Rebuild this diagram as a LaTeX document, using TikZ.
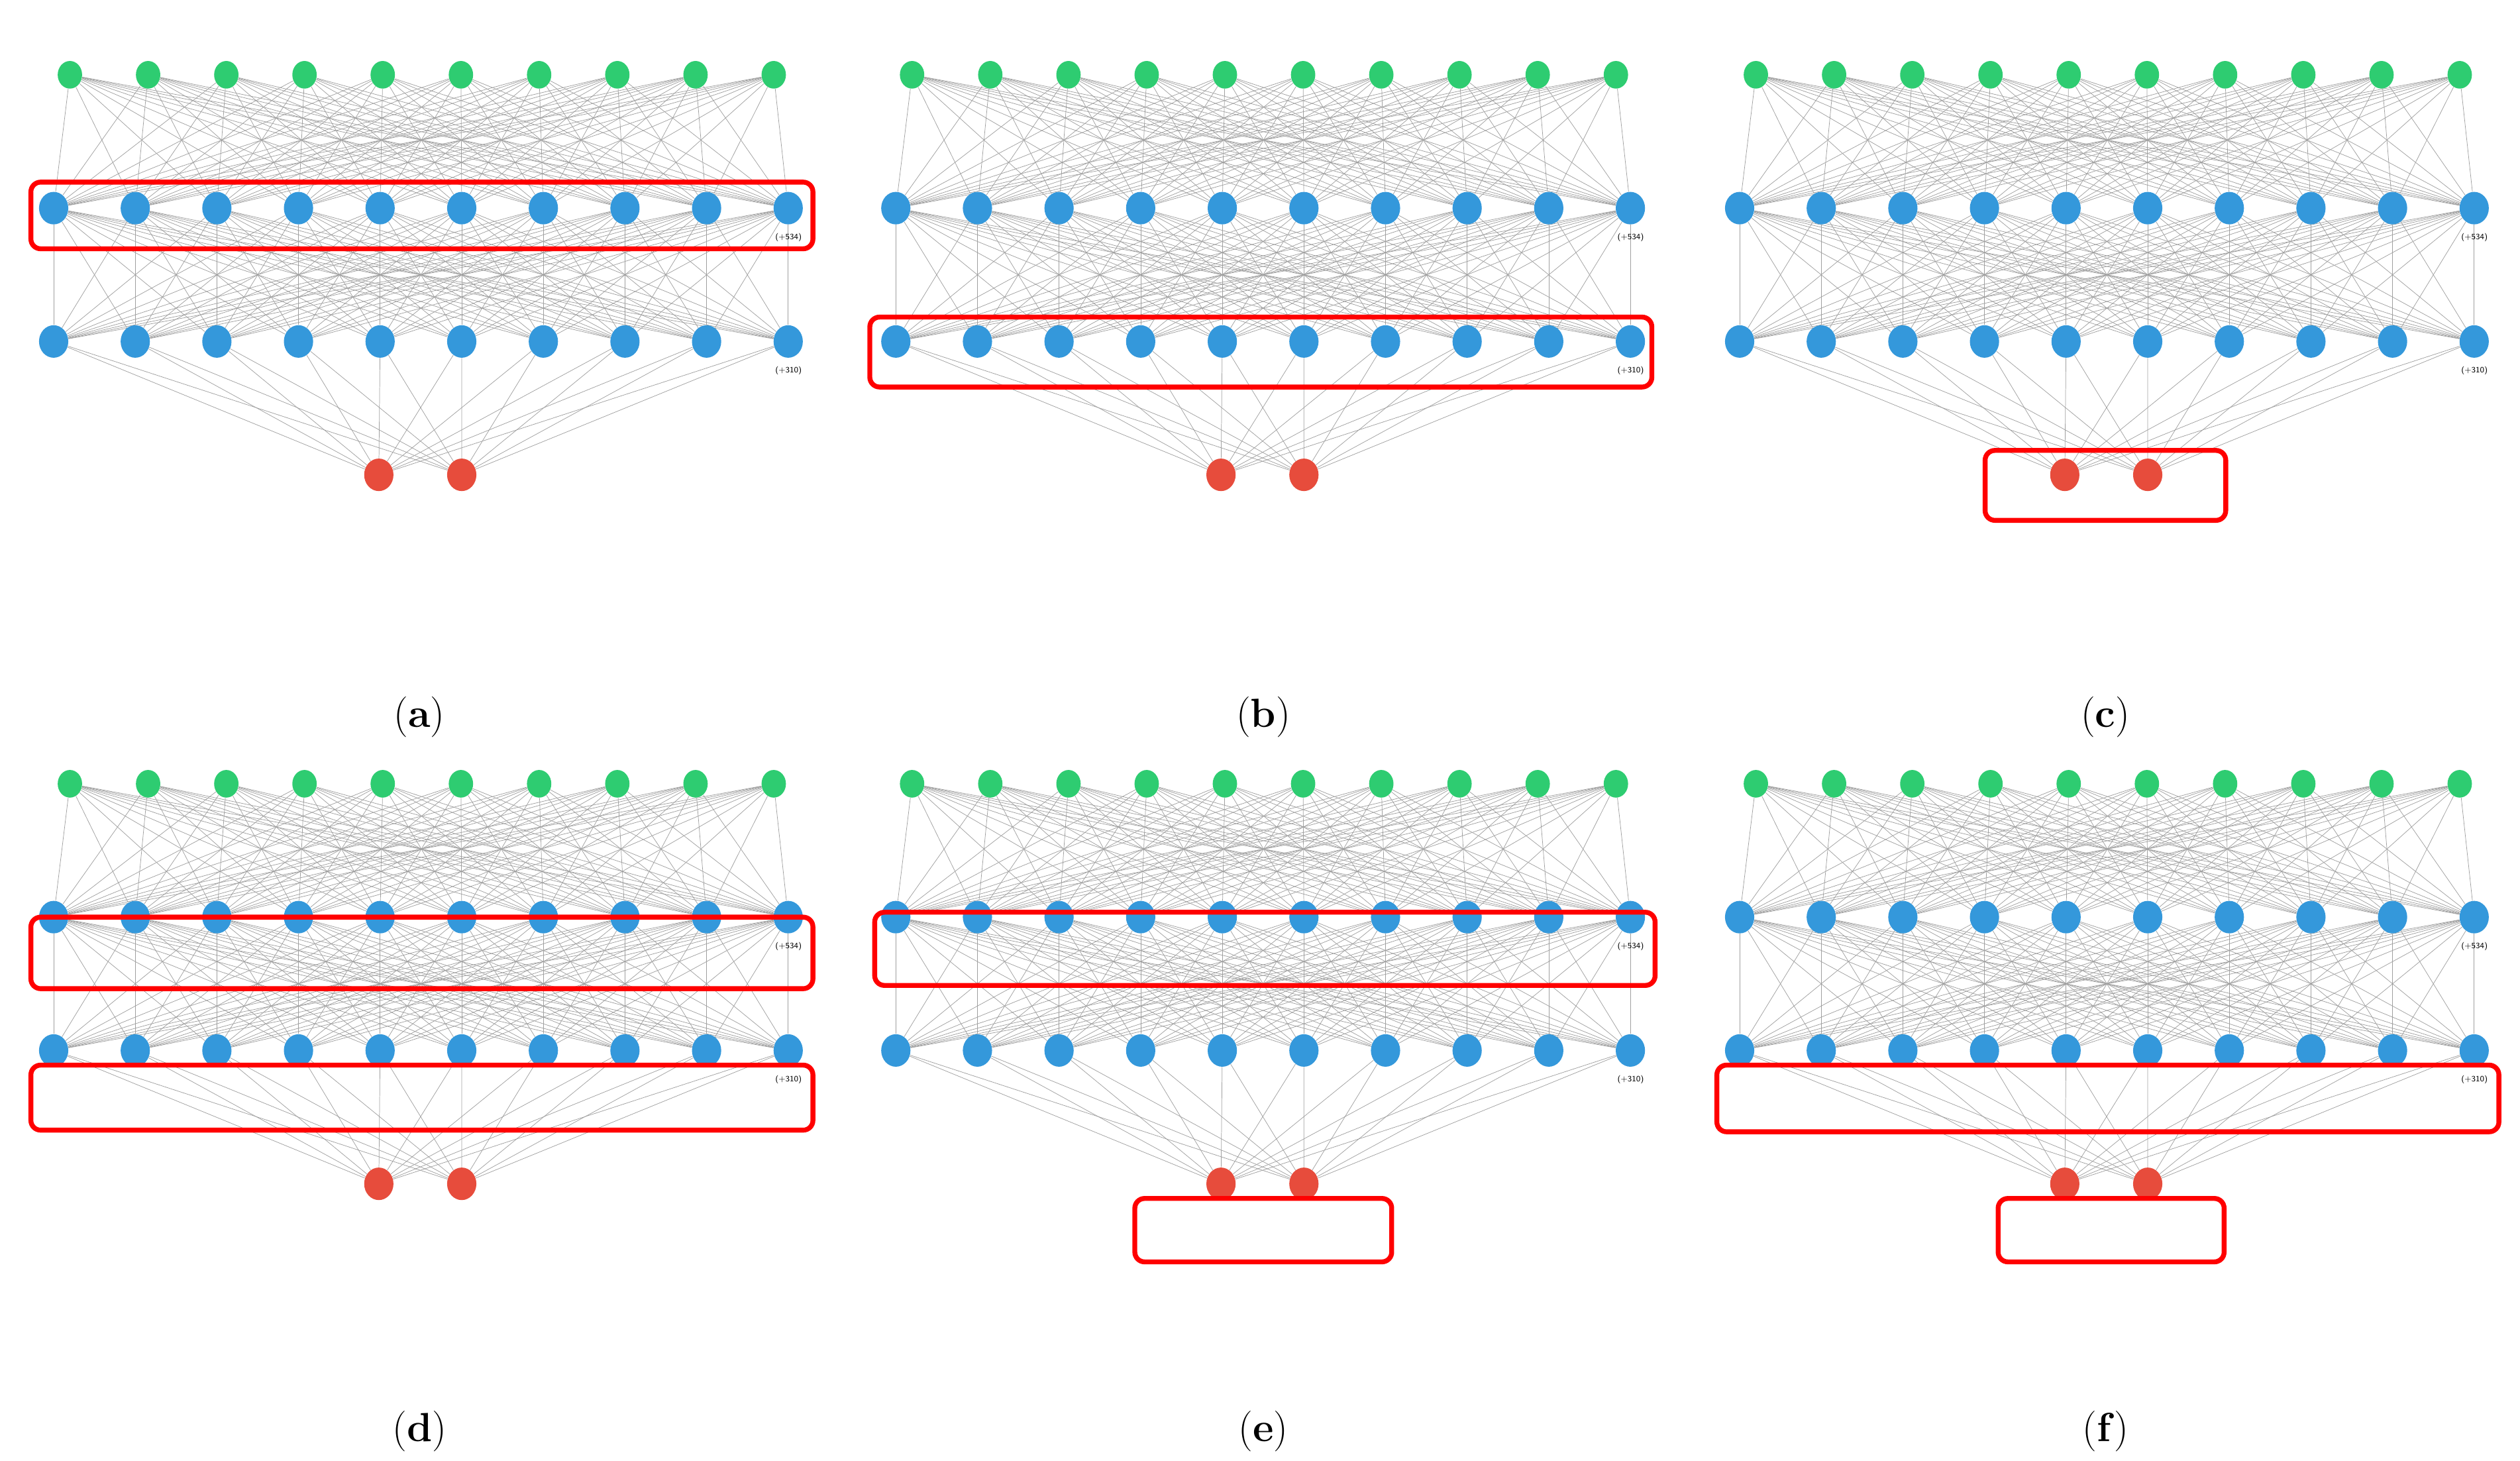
\documentclass[tikz,border=0pt]{standalone}
\usetikzlibrary{shapes.geometric,backgrounds}
\definecolor{gn}{HTML}{2ECC71}
\definecolor{bl}{HTML}{3498DB}
\definecolor{rd}{HTML}{E74C3C}
\definecolor{bx}{HTML}{FF0000}
\begin{document}
\begin{tikzpicture}[x=1pt,y=-1pt,
  gnode/.style={ellipse,fill=gn,inner sep=0,minimum width=15pt,minimum height=17pt},
  bnode/.style={ellipse,fill=bl,inner sep=0,minimum width=18pt,minimum height=20pt},
  rnode/.style={ellipse,fill=rd,inner sep=0,minimum width=18pt,minimum height=20pt},
  edge/.style={draw=gray!75,line width=0.3pt},
  hl/.style={draw=bx,line width=3pt,rounded corners=6pt},
  cnt/.style={font=\sffamily\fontsize{5}{5}\selectfont,inner sep=0},
  captxt/.style={font=\fontsize{25}{28}\selectfont,inner sep=0}]
\useasboundingbox (0,0) rectangle (1550,898.4);
\foreach \p/\dx/\dy in {a/0/0,b/518/0,c/1037/0,d/0/436,e/518/436,f/1037/436}{
 \begin{scope}[shift={(\dx,\dy)}]
  \foreach \i in {1,...,10}{
    \node[gnode] (\p g\i) at ({43+48.1*(\i-1)},46) {};
    \node[bnode] (\p u\i) at ({33+50.2*(\i-1)},128) {};
    \node[bnode] (\p v\i) at ({33+50.2*(\i-1)},210) {};
  }
  \node[rnode] (\p r1) at (233,292) {};
  \node[rnode] (\p r2) at (284,292) {};
  \node[cnt] (\p l1) at (485,146) {(+534)};
  \node[cnt] (\p l2) at (485,228) {(+310)};
  \begin{scope}[on background layer]
  \foreach \i in {1,...,10}{
    \foreach \j in {1,...,10}{
      \draw[edge] (\p g\i) -- (\p u\j);
      \draw[edge] (\p u\i) -- (\p v\j);
    }
    \draw[edge] (\p v\i) -- (\p r1);
    \draw[edge] (\p v\i) -- (\p r2);
  }
  \end{scope}
 \end{scope}
}
\node[captxt] (ca) at (258,441) {(\textbf{a})};
\node[captxt] (cb) at (777,441) {(\textbf{b})};
\node[captxt] (cc) at (1295,441) {(\textbf{c})};
\node[captxt] (cd) at (258,880) {(\textbf{d})};
\node[captxt] (ce) at (777,880) {(\textbf{e})};
\node[captxt] (cf) at (1295,880) {(\textbf{f})};
\draw[hl] (19,112) rectangle (500,153);
\draw[hl] (535,195) rectangle (1016,238);
\draw[hl] (1221,277) rectangle (1369,320);
\draw[hl] (19,564) rectangle (500,608);
\draw[hl] (19,655) rectangle (500,695);
\draw[hl] (538,561) rectangle (1018,606);
\draw[hl] (698,737) rectangle (856,776);
\draw[hl] (1056,655) rectangle (1537,696);
\draw[hl] (1229,737) rectangle (1368,776);
\end{tikzpicture}
\end{document}
